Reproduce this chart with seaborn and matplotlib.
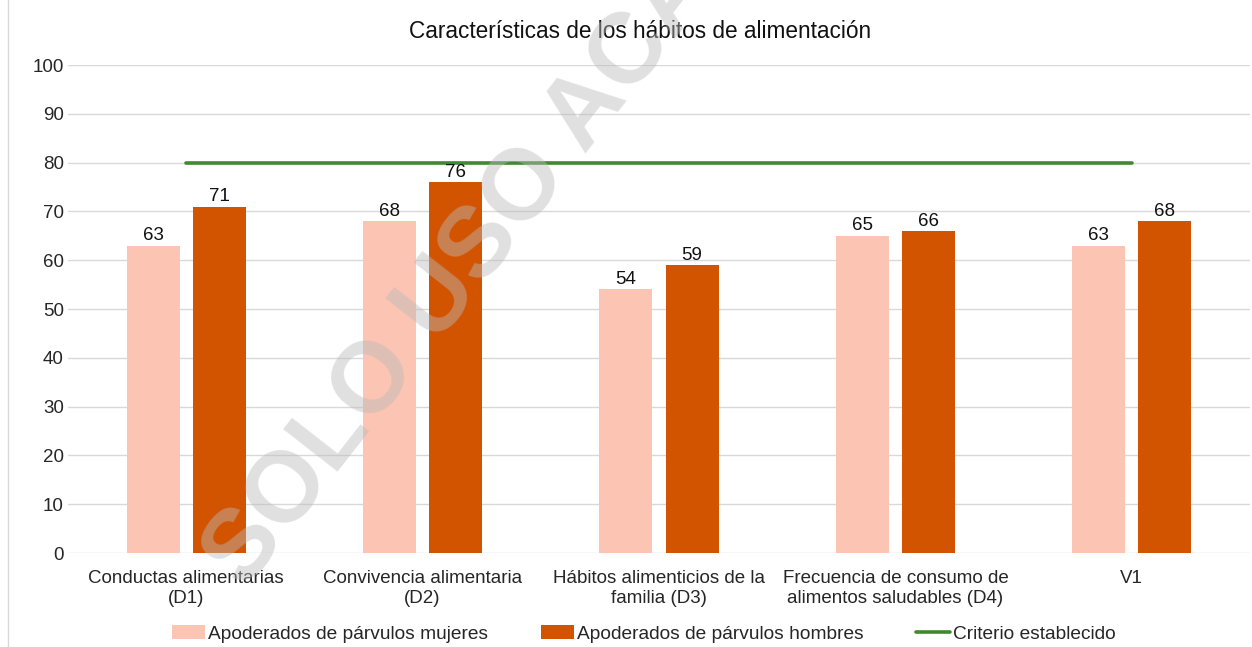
import matplotlib
import pandas as pd
import seaborn as sns
import matplotlib.pyplot as plt
matplotlib.use('Agg')

# datos
categorias = ['Conductas alimentarias\n(D1)', 'Convivencia alimentaria\n(D2)',
              'Hábitos alimenticios de la\nfamilia (D3)',
              'Frecuencia de consumo de\nalimentos saludables (D4)', 'V1']
mujeres = [63, 68, 54, 65, 63]
hombres = [71, 76, 59, 66, 68]
criterio = [80, 80, 80, 80, 80]
series = ['Apoderados de párvulos mujeres', 'Apoderados de párvulos hombres']
colores = ['#FCC4B2', '#D25400']

sns.set_style('white')
plt.rcParams['font.family'] = ['Liberation Sans', 'DejaVu Sans']

df = pd.DataFrame({
    'categoria': categorias * 2,
    'valor': mujeres + hombres,
    'serie': [series[0]] * len(categorias) + [series[1]] * len(categorias),
})

fig = plt.figure(figsize=(12.52, 6.47), dpi=100)
ax = fig.add_axes([68 / 1252, 1 - 553 / 647, (1250 - 68) / 1252, (553 - 65) / 647])

sns.barplot(data=df, x='categoria', y='valor', hue='serie', palette=colores,
            width=0.56, gap=0.2, saturation=1, linewidth=0, ax=ax, legend=True)
sns.lineplot(x=list(range(len(categorias))), y=criterio, color='#3E8A2C',
             linewidth=2.6, ax=ax, label='Criterio establecido')

# etiquetas de valor
for cont in ax.containers:
    ax.bar_label(cont, fontsize=13.5, padding=1, color='#111111')

ax.set_ylim(0, 100)
ax.set_xlim(-0.5, len(categorias) - 0.5)
ax.set_yticks(range(0, 101, 10))
ax.yaxis.grid(True, color='#D9D9D9', linewidth=1)
ax.set_axisbelow(True)
for s in ax.spines.values():
    s.set_visible(False)
ax.tick_params(axis='both', length=0, labelsize=13.5)
ax.tick_params(axis='y', pad=3)
ax.tick_params(axis='x', pad=12)
ax.set_xlabel('')
ax.set_ylabel('')
for lbl in ax.get_xticklabels():
    lbl.set_linespacing(1.22)

# titulo centrado en la figura
fig.text(640 / 1252, 1 - 32 / 647, 'Características de los hábitos de alimentación',
         fontsize=16.3, ha='center', va='center', color='#111111')

ax.legend(loc='center', bbox_to_anchor=(0.487, (634 - 553) / -488), ncol=3, frameon=False,
          fontsize=13.8, handlelength=1.75, handleheight=0.75, columnspacing=2.75,
          handletextpad=0.15, borderpad=0)

# borde izquierdo del marco
fig.add_artist(plt.Line2D([8 / 1252, 8 / 1252], [0, 1], color='#D9D9D9', linewidth=1))

# marca de agua
fig.text(245 / 1252, 1 - 590 / 647, 'SOLO USO ACADÉMICO', fontsize=72, fontweight='bold',
         color='#BBBBBB', alpha=0.45, rotation=52, rotation_mode='anchor',
         ha='left', va='baseline', zorder=10)

fig.savefig('out.png', dpi=100)
plt.close()
